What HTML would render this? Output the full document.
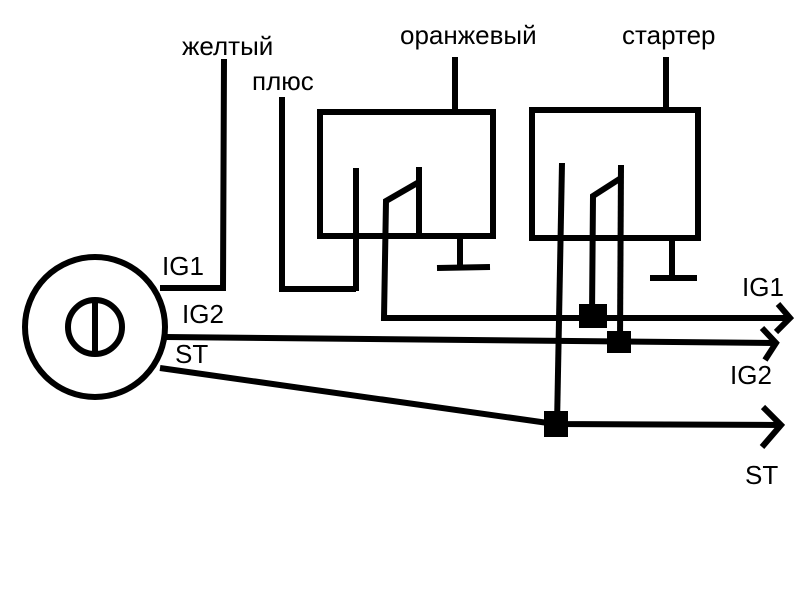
<!DOCTYPE html>
<html><head><meta charset="utf-8"><style>
html,body{margin:0;padding:0;background:#fff;}
svg{display:block}
text{font-family:"Liberation Sans",Arial,sans-serif;font-size:26px;fill:#000}
</style></head><body>
<svg width="800" height="600" viewBox="0 0 800 600" xmlns="http://www.w3.org/2000/svg">
<g fill="none" stroke="#000" stroke-width="6" stroke-linecap="butt" stroke-linejoin="miter">
<!-- ignition -->
<circle cx="95" cy="327" r="70"/>
<ellipse cx="95" cy="327" rx="27" ry="27"/>
<line x1="95" y1="303" x2="95" y2="352"/>
<!-- IG1 from lock to yellow -->
<polyline points="160,288 223,288 224,59"/>
<!-- plus -->
<polyline points="282,97 282,289 356,289"/>
<!-- relay 1 -->
<rect x="320" y="112" width="173" height="124"/>
<line x1="455" y1="57" x2="455" y2="112"/>
<line x1="356" y1="168" x2="356" y2="291"/>
<line x1="419" y1="167" x2="419" y2="237"/>
<polyline points="419,182 386,201 384,318 790,318"/>
<line x1="460" y1="239" x2="460" y2="266"/>
<line x1="437" y1="268" x2="490" y2="267"/>
<!-- relay 2 -->
<rect x="532" y="110" width="166" height="128"/>
<line x1="666" y1="57" x2="666" y2="110"/>
<line x1="562" y1="163" x2="557" y2="425"/>
<line x1="621" y1="165" x2="620" y2="341"/>
<polyline points="621,178 593,196 592,316"/>
<line x1="672" y1="241" x2="672" y2="275"/>
<line x1="650" y1="278" x2="697" y2="278"/>
<!-- IG2 line -->
<line x1="166" y1="337" x2="776" y2="343"/>
<!-- ST line -->
<polyline points="160,368 555,424 781,425"/>
<!-- arrows -->
<polyline points="778,304 790,318 776,332"/>
<polyline points="762,328 776,343 765,360"/>
<polyline points="763,407 781,425 762,447"/>
</g>
<g fill="#000">
<rect x="579" y="304" width="28" height="24"/>
<rect x="607" y="331" width="24" height="22"/>
<rect x="544" y="411" width="24" height="26"/>
</g>
<text x="182" y="55">желтый</text>
<text x="252" y="90">плюс</text>
<text x="400" y="44">оранжевый</text>
<text x="622" y="44">стартер</text>
<text x="162" y="275" font-size="24">IG1</text>
<text x="182" y="323" font-size="24">IG2</text>
<text x="175" y="363" font-size="24">ST</text>
<text x="742" y="296" font-size="24">IG1</text>
<text x="730" y="384" font-size="24">IG2</text>
<text x="745" y="484" font-size="24">ST</text>
</svg>
</body></html>
